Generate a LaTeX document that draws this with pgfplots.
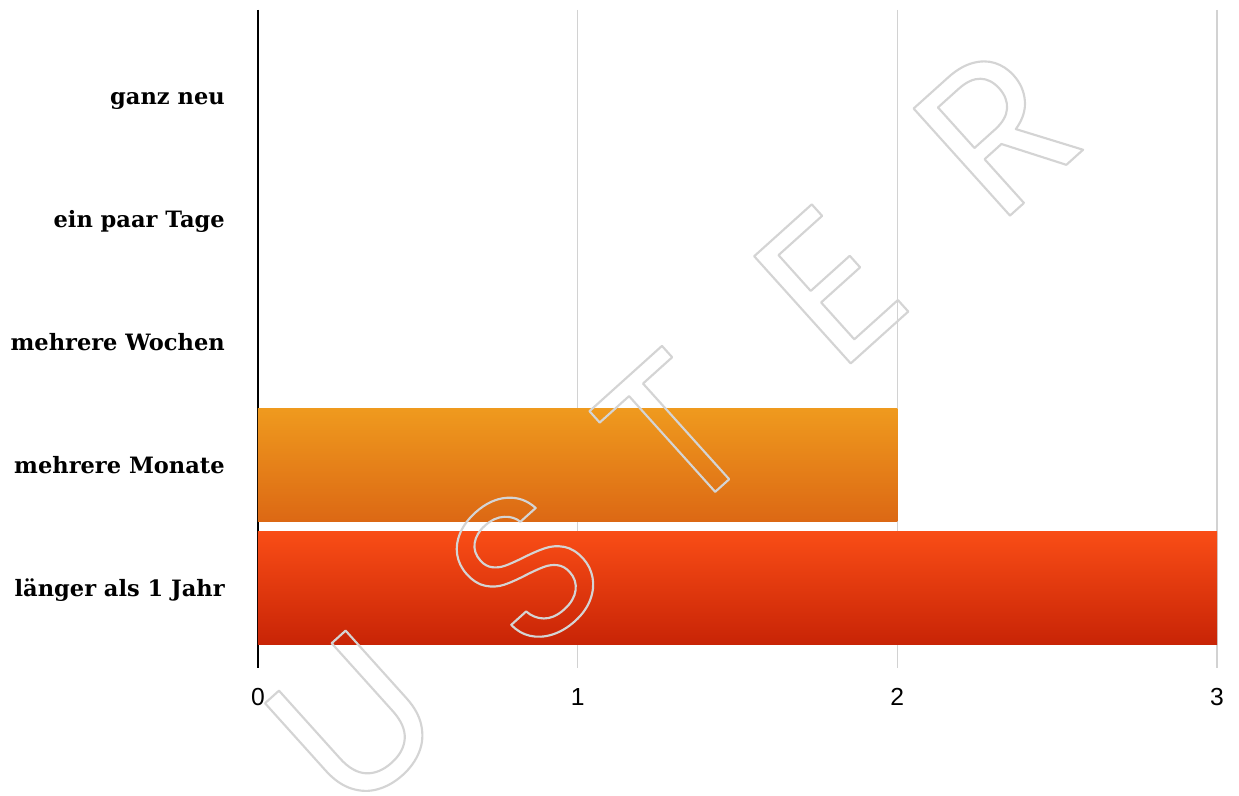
\documentclass[border=0pt]{standalone}
\usepackage{pgfplots}
\pgfplotsset{compat=1.18}
\usepackage{fontspec}
\setmainfont{DejaVu Serif}
\newfontfamily\tickfont{Liberation Sans}
\newfontfamily\wmfont{Poppins}
\definecolor{orTop}{RGB}{239,154,30}
\definecolor{orBot}{RGB}{220,104,20}
\definecolor{rdTop}{RGB}{249,77,22}
\definecolor{rdBot}{RGB}{200,36,6}
\definecolor{gridc}{RGB}{210,210,210}
\definecolor{wmgray}{RGB}{212,212,212}
\newcommand\wm[1]{{\wmfont\fontsize{155}{155}\selectfont\color{wmgray}\special{pdf:literal direct 1 Tr 1.6 w 1 j 1 J}#1\special{pdf:literal direct 0 Tr}}}
\begin{document}
\begin{tikzpicture}
\begin{axis}[
  scale only axis,
  width=719.25pt, height=493.5pt,
  xmin=0, xmax=3,
  ymin=-0.7, ymax=4.65,
  y dir=reverse,
  xbar, bar shift=0pt, bar width=0.92,
  axis y line*=left,
  axis x line*=bottom,
  x axis line style={draw=none},
  y axis line style={black, line width=1.5pt},
  major tick length=0pt,
  xtick={0,1,2,3},
  ytick={0,1,2,3,4},
  yticklabels={ganz neu, ein paar Tage, mehrere Wochen, mehrere Monate, länger als 1 Jahr},
  yticklabel style={font=\fontsize{16.9}{18}\selectfont\bfseries, anchor=base east, inner sep=0pt, xshift=-24.75pt, yshift=-6pt},
  xticklabel style={font=\tickfont\fontsize{18.5}{20}\selectfont, anchor=north, inner sep=0pt, yshift=-15pt},
  /pgf/number format/assume math mode=true,
  xmajorgrids,
  grid style={gridc, line width=0.8pt},
  clip=false,
]
\addplot[draw=none, fill=none] coordinates {(0,0) (0,1) (0,2)};
\addplot[draw=none, top color=orTop, bottom color=orBot] coordinates {(2,3)};
\addplot[draw=none, top color=rdTop, bottom color=rdBot] coordinates {(3,4)};
\end{axis}
\node[rotate=42, inner sep=0pt] at (72pt,-39.75pt) {\wm{U}};
\node[rotate=42, inner sep=0pt] at (200.25pt,75.75pt) {\wm{S}};
\node[rotate=42, inner sep=0pt] at (312pt,177pt) {\wm{T}};
\node[rotate=42, inner sep=0pt] at (429pt,287.25pt) {\wm{E}};
\node[rotate=42, inner sep=0pt] at (554pt,403pt) {\wm{R}};
\pgfresetboundingbox
\useasboundingbox (-193.5pt,-96pt) rectangle (735.75pt,501pt);
\end{tikzpicture}
\end{document}
